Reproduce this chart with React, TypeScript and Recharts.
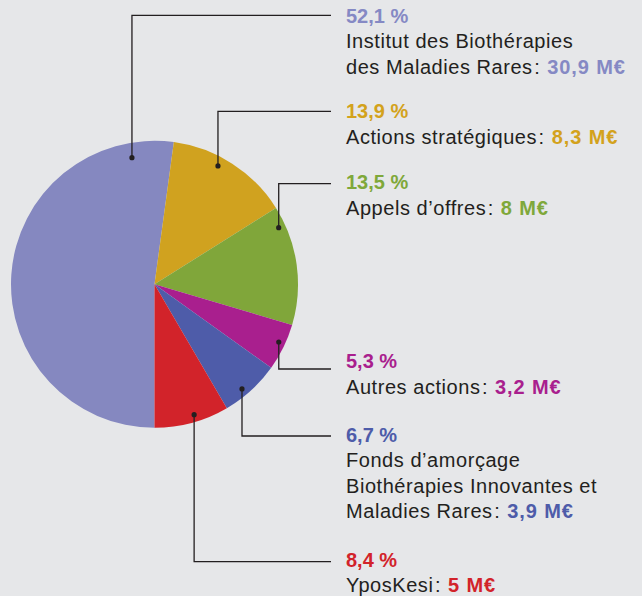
import React from "react";
import { PieChart, Pie, Cell } from "recharts";

// ---- data ----
const categories = [
  "Institut des Biothérapies des Maladies Rares",
  "Actions stratégiques",
  "Appels d’offres",
  "Autres actions",
  "Fonds d’amorçage Biothérapies Innovantes et Maladies Rares",
  "YposKesi",
];
const shares = [52.1, 13.9, 13.5, 5.3, 6.7, 8.4];
const shareLabels = ["52,1 %", "13,9 %", "13,5 %", "5,3 %", "6,7 %", "8,4 %"];
const amountLabels = ["30,9 M€", "8,3 M€", "8 M€", "3,2 M€", "3,9 M€", "5 M€"];
const nameLines = [
  ["Institut des Biothérapies", "des Maladies Rares"],
  ["Actions stratégiques"],
  ["Appels d’offres"],
  ["Autres actions"],
  ["Fonds d’amorçage", "Biothérapies Innovantes et", "Maladies Rares"],
  ["YposKesi"],
];

// ---- styles / layout ----
const colors = ["#8588c0", "#d0a21f", "#80a63a", "#a91f8e", "#4e5ca9", "#d2232a"];
const textColors = ["#8589c4", "#d3a21c", "#7fa83a", "#a91f8e", "#4e5ca9", "#d2232a"];
// dot angle (deg, counter-clockwise from 3 o'clock), dot radius, leader y, text baseline y
const dotAngle = [100.1, 61.8, 24.5, -24.9, -50.1, -73.1];
const dotRadius = [128.6, 134.3, 136.5, 137, 136.4, 136.3];
const leaderY = [15.3, 111.3, 183.7, 369, 436, 561.7];
const textY = [22.7, 118.3, 189.3, 368.3, 441.7, 566.7];

const data = categories.map((name, i) => ({ name, value: shares[i] }));

const FONT = "'Liberation Sans', Arial, sans-serif";
const LINE_END_X = 331;
const TEXT_X = 346;
const LINE_H = 25.5;

const renderLabel = (props: any) => {
  const { cx, cy, index } = props;
  const a = (dotAngle[index] * Math.PI) / 180;
  const x = cx + dotRadius[index] * Math.cos(a);
  const y = cy - dotRadius[index] * Math.sin(a);
  const ly = leaderY[index];
  const lines = nameLines[index];
  return (
    <g key={`lbl-${index}`}>
      <polyline
        points={`${x},${y} ${x},${ly} ${LINE_END_X},${ly}`}
        fill="none"
        stroke="#231f20"
        strokeWidth={1.3}
      />
      <circle cx={x} cy={y} r={2.6} fill="#231f20" />
      <text x={TEXT_X} y={textY[index]} fontFamily={FONT} fontSize={20} fontWeight="bold" fill={textColors[index]}>
        {shareLabels[index]}
      </text>
      {lines.map((ln, j) => (
        <text
          key={j}
          x={TEXT_X}
          y={textY[index] + LINE_H * (j + 1)}
          fontFamily={FONT}
          fontSize={20}
          fill="#231f20"
        >
          {j === lines.length - 1 ? (
            <>
              <tspan letterSpacing={0.55}>{ln}</tspan>
              <tspan dx={1.5}>{": "}</tspan>
              <tspan dx={2} fontWeight="bold" letterSpacing={0.9} fill={textColors[index]}>
                {amountLabels[index]}
              </tspan>
            </>
          ) : (
            <tspan letterSpacing={0.55}>{ln}</tspan>
          )}
        </text>
      ))}
    </g>
  );
};

export default function App() {
  return (
    <div style={{ position: "absolute", left: 0, top: 0, width: 642, height: 596, background: "#e6e7e9" }}>
      <PieChart width={642} height={596} margin={{ top: 0, right: 0, bottom: 0, left: 0 }}>
        <Pie
          data={data}
          dataKey="value"
          nameKey="name"
          cx={154.5}
          cy={284.3}
          outerRadius={143.5}
          innerRadius={0}
          startAngle={-90}
          endAngle={-450}
          stroke="none"
          label={renderLabel}
          labelLine={false}
          isAnimationActive={false}
        >
          {data.map((d, i) => (
            <Cell key={d.name} fill={colors[i]} />
          ))}
        </Pie>
      </PieChart>
    </div>
  );
}
